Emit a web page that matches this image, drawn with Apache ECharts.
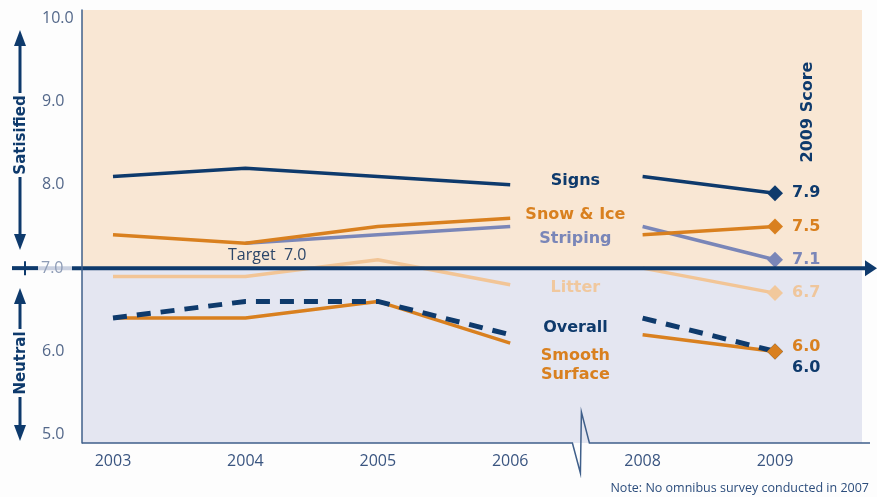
<!DOCTYPE html>
<html>
<head>
<meta charset="utf-8">
<title>Resident satisfaction scores 2003-2009</title>
<script src="https://cdn.jsdelivr.net/npm/echarts@6/dist/echarts.min.js"></script>
<style>
  html, body { margin: 0; padding: 0; background: #fdfdfd; }
  #chart { width: 877px; height: 497px; }
</style>
</head>
<body>
<div id="chart"></div>
<script>
// Survey years (no survey in 2007, so the axis jumps from 2006 to 2008)
const years = ['2003', '2004', '2005', '2006', '2008', '2009'];

// Mean satisfaction score per service area
const signs         = [8.1, 8.2, 8.1, 8.0, 8.1, 7.9];
const snowIce       = [7.4, 7.3, 7.5, 7.6, 7.4, 7.5];
const striping      = [null, 7.3, 7.4, 7.5, 7.5, 7.1];
const litter        = [6.9, 6.9, 7.1, 6.8, 7.0, 6.7];
const overall       = [6.4, 6.6, 6.6, 6.2, 6.4, 6.0];
const smoothSurface = [6.4, 6.4, 6.6, 6.1, 6.2, 6.0];

const yTicks = [5, 6, 7, 8, 9, 10];
const target = 7.0;

const NAVY = '#0e3a6c';
const ORANGE = '#d9801f';
const STRIPE = '#7a86b8';
const LITTER = '#f2c596';
const FONT = '"Open Sans", "DejaVu Sans", sans-serif';
const BOLD_FONT = '"DejaVu Sans", "Open Sans", sans-serif';

// index of the missing year: the line breaks between 2006 and 2008
const breakAfter = years.indexOf('2006');

function lineData(values) {
  const out = [];
  values.forEach((v, i) => {
    if (v !== null) out.push([i, v]);
    if (i === breakAfter) out.push([i + 0.5, '-']);
  });
  return out;
}

function lineSeries(name, values, color, dashed) {
  return {
    name: name,
    type: 'line',
    data: lineData(values),
    symbol: 'none',
    connectNulls: false,
    lineStyle: { color: color, width: dashed ? 5 : 3.5, type: dashed ? [14, 10] : 'solid', cap: 'butt' },
    z: 2
  };
}

function scoreSeries(values, color, labelColor, offset) {
  const last = values.length - 1;
  return {
    type: 'scatter',
    data: [[last, values[last]]],
    symbol: 'diamond',
    symbolSize: 16,
    itemStyle: { color: color, opacity: 1 },
    label: {
      show: true,
      position: 'right',
      distance: 9,
      offset: offset || [0, 0],
      formatter: p => p.value[1].toFixed(1),
      color: labelColor,
      fontFamily: BOLD_FONT,
      fontWeight: 'bold',
      fontSize: 16
    },
    z: 4
  };
}

const chart = echarts.init(document.getElementById('chart'), null, { renderer: 'canvas' });

chart.setOption({
  backgroundColor: '#fdfdfd',
  animation: false,
  grid: { left: 82, right: 15, top: 10, bottom: 54 },
  xAxis: {
    type: 'value',
    min: -0.234,
    max: 5.657,
    axisLine: { show: false },
    axisTick: { show: false },
    splitLine: { show: false },
    axisLabel: {
      customValues: years.map((y, i) => i),
      formatter: v => years[Math.round(v)],
      color: '#3a5580',
      fontFamily: FONT,
      fontSize: 16,
      margin: 10
    }
  },
  yAxis: {
    type: 'value',
    min: 4.9,
    max: 10.1,
    z: 6,
    axisLine: { show: true, onZero: false, lineStyle: { color: '#3f5f8a', width: 1.5 } },
    axisTick: { show: false },
    splitLine: { show: false },
    axisLabel: {
      customValues: yTicks,
      formatter: v => (v === target ? '' : v.toFixed(1)),
      align: 'left',
      margin: 40,
      color: '#54688a',
      fontFamily: FONT,
      fontSize: 16
    }
  },
  series: [
    {
      type: 'line',
      data: [],
      silent: true,
      markArea: {
        silent: true,
        z: 0,
        data: [
          [{ yAxis: target, itemStyle: { color: '#f9e7d4' } }, { yAxis: 10.1 }],
          [{ yAxis: 4.9, itemStyle: { color: '#e4e6f1' } }, { yAxis: target }]
        ]
      },
      z: 0
    },
    lineSeries('Litter', litter, LITTER),
    lineSeries('Striping', striping, STRIPE),
    lineSeries('Snow & Ice', snowIce, ORANGE),
    lineSeries('Signs', signs, NAVY),
    lineSeries('Smooth Surface', smoothSurface, ORANGE),
    lineSeries('Overall', overall, NAVY, true),
    scoreSeries(signs, NAVY, NAVY),
    scoreSeries(snowIce, ORANGE, ORANGE),
    scoreSeries(striping, STRIPE, STRIPE),
    scoreSeries(litter, '#f1c89c', '#efc69c'),
    scoreSeries(overall, NAVY, NAVY, [0, 16]),
    scoreSeries(smoothSurface, ORANGE, ORANGE, [0, -5])
  ]
});

// Decorations placed through the chart's own scales
const toPx = (x, y) => chart.convertToPixel({ gridIndex: 0 }, [x, y]);
const yTarget = toPx(0, target)[1];
const yBase = toPx(0, 4.9)[1];
const xGap = toPx(breakAfter + 0.5, 0)[0];
const xMid = xGap - 1;

function text(str, x, y, color, opts) {
  opts = opts || {};
  return {
    type: 'text',
    x: x, y: y,
    rotation: opts.rotation || 0,
    z: 10,
    style: {
      text: str,
      fill: color,
      font: (opts.weight || 'bold') + ' ' + (opts.size || 16) + 'px ' + (opts.family || BOLD_FONT),
      align: opts.align || 'center',
      verticalAlign: 'middle'
    }
  };
}

function vArrow(x, yTop, yBot, textCenter, halfText, label) {
  const head = 16, hw = 6;
  return [
    { type: 'polygon', z: 10, shape: { points: [[x, yTop], [x - hw, yTop + head], [x + hw, yTop + head]] }, style: { fill: NAVY } },
    { type: 'line', z: 10, shape: { x1: x, y1: yTop + head - 1, x2: x, y2: textCenter - halfText }, style: { stroke: NAVY, lineWidth: 3 } },
    { type: 'line', z: 10, shape: { x1: x, y1: textCenter + halfText, x2: x, y2: yBot - head + 1 }, style: { stroke: NAVY, lineWidth: 3 } },
    { type: 'polygon', z: 10, shape: { points: [[x, yBot], [x - hw, yBot - head], [x + hw, yBot - head]] }, style: { fill: NAVY } },
    text(label, x + 1, textCenter, NAVY, { rotation: Math.PI / 2, size: 15 })
  ];
}

const labelX = xMid;
const graphics = [
  // baseline with a break mark for the skipped year
  {
    type: 'polyline', z: 5,
    shape: { points: [[82, yBase], [xMid - 3, yBase], [xMid + 5, yBase + 30], [xMid + 6, yBase - 31], [xMid + 14, yBase], [870, yBase]] },
    style: { stroke: '#3f5f8a', lineWidth: 1.5, fill: null }
  },
  // target line with arrow; the 7.0 tick label sits on a lighter stretch of it
  { type: 'line', z: 5, shape: { x1: 12, y1: yTarget, x2: 38, y2: yTarget }, style: { stroke: NAVY, lineWidth: 4 } },
  { type: 'line', z: 5, shape: { x1: 38, y1: yTarget, x2: 72, y2: yTarget }, style: { stroke: '#c9d0e0', lineWidth: 4 } },
  { type: 'line', z: 5, shape: { x1: 72, y1: yTarget, x2: 867, y2: yTarget }, style: { stroke: NAVY, lineWidth: 4 } },
  { type: 'polygon', z: 5, shape: { points: [[865, yTarget - 8], [877, yTarget], [865, yTarget + 8]] }, style: { fill: NAVY } },
  { type: 'line', z: 5, shape: { x1: 25, y1: yTarget - 7, x2: 25, y2: yTarget + 7 }, style: { stroke: NAVY, lineWidth: 2 } },
  text(target.toFixed(1), 41, yTarget, '#8e9cb6', { weight: 'normal', size: 16, align: 'left', family: FONT }),
  text('Target  7.0', 228, yTarget - 13, '#2c4669', { weight: 'normal', size: 16, align: 'left', family: FONT }),

  // series names beside the break
  text('Signs', labelX, 181, NAVY),
  text('Snow & Ice', labelX, 215, ORANGE),
  text('Striping', labelX, 239, STRIPE),
  text('Litter', labelX, 288, '#f0c89e'),
  text('Overall', labelX, 328, NAVY),
  text('Smooth', labelX, 356, ORANGE),
  text('Surface', labelX, 375, ORANGE),

  text('2009 Score', 808, 112, NAVY, { rotation: Math.PI / 2, size: 16 }),
  text('Note: No omnibus survey conducted in 2007', 869, 488, '#2c4d7c', { weight: 'normal', size: 12.5, align: 'right', family: FONT })
]
  .concat(vArrow(20, 30, 250, 135, 42, 'Satisified'))
  .concat(vArrow(20, 288, 441, 363, 34, 'Neutral'));

chart.setOption({ graphic: { elements: graphics } });
</script>
</body>
</html>
